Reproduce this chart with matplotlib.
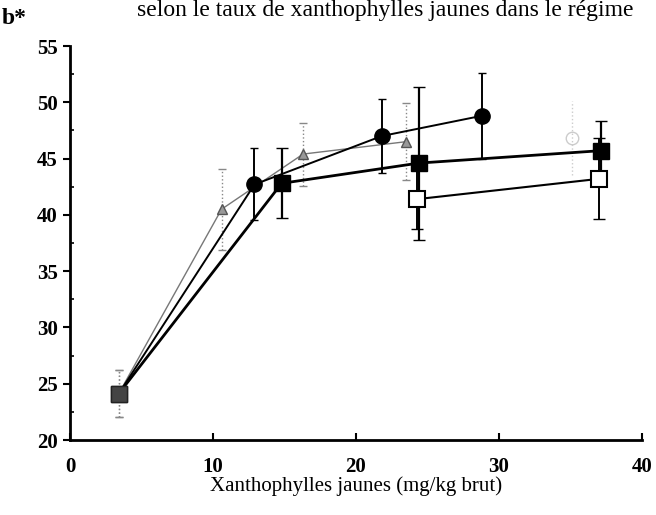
import matplotlib.pyplot as plt
from matplotlib.ticker import MultipleLocator

# valeurs
x_cercle = [3.4, 12.9, 21.8, 28.8]
y_cercle = [24.1, 42.7, 47.0, 48.8]
e_cercle = [2.1, 3.2, 3.3, 3.8]

x_carre = [3.4, 14.8, 24.4, 37.1]
y_carre = [24.1, 42.8, 44.6, 45.7]
e_carre = [2.1, 3.1, 6.8, 2.6]

x_carre_vide = [24.3, 37.0]
y_carre_vide = [41.4, 43.2]
e_carre_vide = [2.7, 3.6]

x_triangle = [3.4, 10.6, 16.3, 23.5]
y_triangle = [24.1, 40.5, 45.4, 46.5]
e_triangle = [2.1, 3.6, 2.8, 3.4]

x_cercle_vide = [35.1]
y_cercle_vide = [46.8]
e_cercle_vide = [3.3]

titre = "selon le taux de xanthophylles jaunes dans le régime"
xlabel = "Xanthophylles jaunes (mg/kg brut)"
x_ticks = [0, 10, 20, 30, 40]
y_ticks = [20, 25, 30, 35, 40, 45, 50, 55]

plt.rcParams["font.family"] = ["Liberation Serif", "DejaVu Serif"]

fig = plt.figure(figsize=(6.56, 5.15), dpi=100)
ax = fig.add_axes([70 / 656, 75 / 515, 572 / 656, 394 / 515])

# triangles gris, trait fin, barres en pointillé
ax.plot(x_triangle, y_triangle, color="#777777", lw=1.0, marker="^", ms=7,
        mfc="#999999", mec="#555555", zorder=3)
eb = ax.errorbar(x_triangle, y_triangle, yerr=e_triangle, fmt="none", ecolor="#888888",
                 elinewidth=1.0, capsize=3, zorder=2)
eb[2][0].set_linestyle(":")

# cercle vide très pâle
eb = ax.errorbar(x_cercle_vide, y_cercle_vide, yerr=e_cercle_vide, fmt="o", ms=9,
                 mfc="none", mec="#cccccc", ecolor="#cccccc", elinewidth=1.0, capsize=0, zorder=1)
eb[2][0].set_linestyle(":")

# cercles pleins
ax.plot(x_cercle, y_cercle, color="black", lw=1.4, marker="o", ms=11, mfc="black",
        mec="black", zorder=4)
ax.errorbar(x_cercle[1:], y_cercle[1:], yerr=e_cercle[1:], fmt="none", ecolor="black",
            elinewidth=1.4, capsize=3, zorder=3)

# carrés pleins, trait épais
ax.plot(x_carre, y_carre, color="black", lw=2.0, marker="s", ms=11, mfc="black",
        mec="black", zorder=5)
ax.errorbar(x_carre[1:], y_carre[1:], yerr=e_carre[1:], fmt="none", ecolor="black",
            elinewidth=1.6, capsize=4, zorder=4)

# carrés vides
ax.plot(x_carre_vide, y_carre_vide, color="black", lw=1.5, marker="s", ms=11, mfc="white",
        mec="black", mew=1.5, zorder=6)
ax.errorbar(x_carre_vide, y_carre_vide, yerr=e_carre_vide, fmt="none", ecolor="black",
            elinewidth=1.4, capsize=4, zorder=3)

# premier point commun, barre en pointillé
eb = ax.errorbar(x_carre[:1], y_carre[:1], yerr=e_carre[:1], fmt="s", ms=11, mfc="#444444",
                 mec="#222222", ecolor="#888888", elinewidth=1.0, capsize=3, zorder=7)
eb[2][0].set_linestyle(":")

ax.set_xlim(0, 40)
ax.set_ylim(20, 55)
ax.set_xticks(x_ticks)
ax.set_yticks(y_ticks)
ax.yaxis.set_minor_locator(MultipleLocator(2.5))
ax.tick_params(axis="y", which="major", direction="out", length=5, width=1.5,
               labelsize=15, pad=4)
ax.tick_params(axis="y", which="minor", direction="in", length=3, width=1.2)
ax.tick_params(axis="x", direction="in", length=5, width=1.5, labelsize=15, pad=12)
for lab in ax.get_xticklabels() + ax.get_yticklabels():
    lab.set_fontweight("bold")
for side in ["top", "right"]:
    ax.spines[side].set_visible(False)
for side in ["left", "bottom"]:
    ax.spines[side].set_linewidth(2.0)

ax.set_xlabel(xlabel, fontsize=15, labelpad=0)

fig.text(385 / 656, 1 - 16 / 515, titre, ha="center", va="baseline", fontsize=17)
fig.text(27 / 656, 1 - 24 / 515, "b*", ha="right", va="baseline", fontsize=17,
         fontweight="bold")

fig.savefig("out.png", dpi=100)
